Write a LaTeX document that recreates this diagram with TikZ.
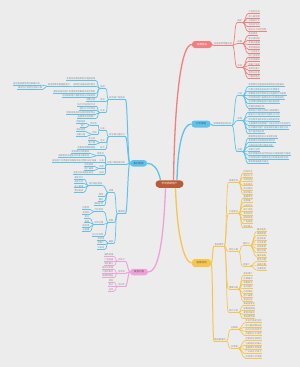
\documentclass[tikz,border=0pt]{standalone}
\usepackage{fontspec}
\usepackage{xstring}
\newfontfamily\cjk{Noto Sans CJK SC}
\definecolor{bgc}{HTML}{ECECEC}
\definecolor{cR}{HTML}{F37E7E}
\definecolor{cB}{HTML}{5CC3EE}
\definecolor{cY}{HTML}{F7C54C}
\definecolor{cP}{HTML}{F0A0DA}
\definecolor{cC}{HTML}{B85B36}
\definecolor{txt}{HTML}{8A8A8A}
\newcounter{poff}
\newcommand\pool{市场调研用户画像竞品分析渠道投放活动策划数据复盘内容运营品牌传播社群维护效果评估产品定位目标人群预算分配执行计划时间节点团队分工风险控制会员体系积分规则裂变增长直播带货视频推广公众号文线下活动合作伙伴媒体资源广告投放转化漏斗留存分析客户服务售后保障舆情监测危机公关年度总结季度规划月度报告每周例会日程安排优惠方案新品发布用户反馈需求收集版本迭代物料设计海报制作文案撰写场地布置嘉宾邀请流量获取复购提升}
\newcommand\T[1]{\StrMid{\pool}{\the\numexpr\value{poff}+1\relax}{\the\numexpr\value{poff}+#1\relax}\addtocounter{poff}{#1}\ifnum\value{poff}>170 \setcounter{poff}{0}\fi}
\newcommand\tR[5]{\node[tp,anchor=south west] (#1) at (#2,#3) {#5}; \draw[ul=#4] (#1.south west) -- (#1.south east);}
\newcommand\tL[5]{\node[tp,anchor=south east] (#1) at (#2,#3) {#5}; \draw[ul=#4] (#1.south west) -- (#1.south east);}
\newcommand\kR[3]{\draw[cn=#3] (#1.south east) .. controls +(2.5,0) and +(-2.5,0) .. (#2.south west);}
\newcommand\kL[3]{\draw[cn=#3] (#1.south west) .. controls +(-2.5,0) and +(2.5,0) .. (#2.south east);}
\begin{document}
\begin{tikzpicture}[x=1pt,y=-1pt,
 tp/.style={font=\cjk\fontsize{2.2}{2.6}\selectfont, text=txt, inner xsep=0.5pt, inner ysep=0.35pt},
 ul/.style={draw=#1, line width=0.7pt},
 cn/.style={draw=#1, line width=0.7pt},
 c1/.style={draw=#1, line width=1pt},
 mc/.style={draw=#1, line width=1.3pt},
 mn/.style={rounded corners=3pt, minimum width=20pt, minimum height=7pt, inner sep=0pt, font=\cjk\fontsize{2.5}{3}\selectfont, text=black!65}]
\fill[bgc] (0,0) rectangle (300,367);
\useasboundingbox (0,0) rectangle (300,367);

% center and main topics
\node[mn, fill=cC, minimum width=28pt, minimum height=7.5pt, rounded corners=3.7pt, text=white, font=\cjk\fontsize{2.6}{3}\selectfont] (C) at (169.5,184) {\T{6}};
\node[mn, fill=cR, text=white] (R) at (202,44.5) {\T{4}};
\node[mn, fill=cB, minimum width=19pt] (B) at (201,124) {\T{4}};
\node[mn, fill=cY, minimum width=19pt, minimum height=8pt] (Y) at (201.5,263) {\T{4}};
\node[mn, fill=cB, minimum width=17pt, minimum height=6.5pt] (L) at (138.5,163.3) {\T{4}};
\node[mn, fill=cP, minimum width=18pt, minimum height=6.5pt] (P) at (139,272) {\T{4}};

\draw[mc=cR] ([xshift=4pt]C.north) .. controls (175,90) and (182,44.5) .. (R.west);
\draw[mc=cB] ([xshift=7.5pt]C.north) .. controls (178,140) and (184,124) .. (B.west);
\draw[mc=cY] ([xshift=6pt]C.south) .. controls (177,235) and (184,263) .. (Y.west);
\draw[mc=cB] ([xshift=-9pt]C.north) .. controls (158,168) and (153,163.3) .. (L.east);
\draw[mc=cP] ([xshift=-4pt]C.south) .. controls (163,255) and (156,272) .. (P.east);

% ---------- RED ----------
\tR{R1}{213.5}{45.6}{cR}{\T{8}}
\draw[c1=cR] (R.east) .. controls +(1,0) and +(-1,0) .. (R1.south west);
\tR{RG1}{237}{22.7}{cR}{\T{2}} \kR{R1}{RG1}{cR}
\tR{RG2}{237}{43.7}{cR}{\T{2}} \kR{R1}{RG2}{cR}
\tR{RG3}{237}{67.4}{cR}{\T{2}} \kR{R1}{RG3}{cR}
\foreach \y/\n [count=\i] in {13.7/5,18/5,22.4/5,26.7/5,31.4/8}{\tR{Ra\i}{248}{\y}{cR}{\T{\n}}\kR{RG1}{Ra\i}{cR}}
\foreach \y/\n [count=\i] in {35.7/4,40/5,44.4/5,49/5,53.4/5}{\tR{Rb\i}{248}{\y}{cR}{\T{\n}}\kR{RG2}{Rb\i}{cR}}
\foreach \y/\n [count=\i] in {57.4/5,61.6/5,65.8/5,70/5,74.2/5,78.4/5}{\tR{Rc\i}{248}{\y}{cR}{\T{\n}}\kR{RG3}{Rc\i}{cR}}

% ---------- BLUE RIGHT ----------
\tR{B1}{213}{125.4}{cB}{\T{8}}
\draw[c1=cB] (B.east) .. controls +(1,0) and +(-1,0) .. (B1.south west);
\tR{BG1}{237}{95.7}{cB}{\T{2}} \kR{B1}{BG1}{cB}
\tR{BG2}{237}{120.7}{cB}{\T{2}} \kR{B1}{BG2}{cB}
\tR{BG3}{237}{151.7}{cB}{\T{2}} \kR{B1}{BG3}{cB}
\foreach \y/\n [count=\i] in {86.7/16,91/14,95.3/17,99.5/16,103.7/14,107.9/7}{\tR{Ba\i}{248}{\y}{cB}{\T{\n}}\kR{BG1}{Ba\i}{cB}}
\foreach \y/\n [count=\i] in {112.4/14,116.7/14,121/14,125.2/19,129.4/18,133.6/7}{\tR{Bb\i}{248}{\y}{cB}{\T{\n}}\kR{BG2}{Bb\i}{cB}}
\foreach \y/\n [count=\i] in {138.4/13,142.6/12,146.8/11,151/5,155.2/19,159.4/18,163.6/9}{\tR{Bc\i}{248}{\y}{cB}{\T{\n}}\kR{BG3}{Bc\i}{cB}}

% ---------- YELLOW ----------
\tR{Y1}{214}{246}{cY}{\T{4}}
\draw[c1=cY] (Y.east) .. controls +(1.5,0) and +(-1.5,0) .. (Y1.south west);
\tR{Y2}{214}{341}{cY}{\T{5}}
\draw[c1=cY] (Y.east) .. controls +(1.5,0) and +(-1.5,0) .. (Y2.south west);
\tR{YA}{228.5}{182.4}{cY}{\T{4}} \kR{Y1}{YA}{cY}
\tR{YB}{228.5}{213.4}{cY}{\T{4}} \kR{Y1}{YB}{cY}
\tR{YC}{228.5}{251.7}{cY}{\T{4}} \kR{Y1}{YC}{cY}
\tR{YD}{228.5}{289}{cY}{\T{4}} \kR{Y1}{YD}{cY}
\tR{YE}{228.5}{312.4}{cY}{\T{4}} \kR{Y1}{YE}{cY}
\foreach \y [count=\i] in {173.2,177.4,181.6,185.8,190,194.2}{\tR{Ya\i}{243}{\y}{cY}{\T{4}}\kR{YA}{Ya\i}{cY}}
\foreach \y [count=\i] in {198.4,202.6,206.8,211,215.2,219.4,223.6,227.8}{\tR{Yb\i}{243}{\y}{cY}{\T{4}}\kR{YB}{Yb\i}{cY}}
\tR{YC1}{242.5}{245.7}{cY}{\T{3}} \kR{YC}{YC1}{cY}
\tR{YC2}{242.5}{266}{cY}{\T{3}} \kR{YC}{YC2}{cY}
\foreach \y [count=\i] in {231.5,235.7,240,244.3,248.5,252.7,257}{\tR{Yc\i}{256.5}{\y}{cY}{\T{4}}\kR{YC1}{Yc\i}{cY}}
\foreach \y [count=\i] in {261.5,265.8,270}{\tR{Yd\i}{256.5}{\y}{cY}{\T{4}}\kR{YC2}{Yd\i}{cY}}
\foreach \y [count=\i] in {275.7,280,284.3,288.6,292.9,297.2,301.5}{\tR{Ye\i}{243}{\y}{cY}{\T{4}}\kR{YD}{Ye\i}{cY}}
\foreach \y [count=\i] in {305.7,310,314.3,318.6}{\tR{Yf\i}{243}{\y}{cY}{\T{5}}\kR{YE}{Yf\i}{cY}}
\tR{YF}{230.5}{329.4}{cY}{\T{3}} \kR{Y2}{YF}{cY}
\tR{YG}{230.5}{348.4}{cY}{\T{3}} \kR{Y2}{YG}{cY}
\foreach \y [count=\i] in {322.7,327,331.3,335.6}{\tR{Yg\i}{245}{\y}{cY}{\T{4}~\T{3}}\kR{YF}{Yg\i}{cY}}
\foreach \y [count=\i] in {340.7,345,349.3,353.6,357.9}{\tR{Yh\i}{245}{\y}{cY}{\T{4}~\T{3}}\kR{YG}{Yh\i}{cY}}

% ---------- BLUE LEFT ----------
\tL{L1}{125.5}{99.4}{cB}{\T{7}}
\tL{L2}{125.5}{136.7}{cB}{\T{7}}
\tL{L3}{125.5}{164.7}{cB}{\T{8}}
\tL{L4}{125.5}{213.7}{cB}{\T{3}}
\foreach \t in {L1,L2,L3,L4}{\draw[c1=cB] (L.west) .. controls +(-2,0) and +(2,0) .. (\t.south east);}
% L1
\tL{L1a}{105.5}{88.4}{cB}{\T{2}} \kL{L1}{L1a}{cB}
\tL{L1b}{105.5}{101.7}{cB}{\T{2}} \kL{L1}{L1b}{cB}
\tL{L1c}{105.5}{112.7}{cB}{\T{2}} \kL{L1}{L1c}{cB}
\foreach \y/\n [count=\i] in {80.7/13,86/10,93.4/19,97.7/15}{\tL{La\i}{96}{\y}{cB}{\T{\n}}\kL{L1a}{La\i}{cB}}
\tL{Lx}{70.5}{86}{cB}{\T{10}} \kL{La2}{Lx}{cB}
\tL{Ly1}{40.5}{85}{cB}{\T{12}} \kL{Lx}{Ly1}{cB}
\tL{Ly2}{43}{89.4}{cB}{\T{11}} \kL{Lx}{Ly2}{cB}
\tL{Lb1}{96}{101.7}{cB}{\T{4}} \kL{L1b}{Lb1}{cB}
\foreach \y/\n [count=\i] in {106/8,110/7,114/13,118.4/8}{\tL{Lc\i}{96}{\y}{cB}{\T{\n}}\kL{L1c}{Lc\i}{cB}}
% L2
\tL{L2a}{105.5}{130}{cB}{\T{2}} \kL{L2}{L2a}{cB}
\tL{L2b}{105.5}{142.7}{cB}{\T{2}} \kL{L2}{L2b}{cB}
\tL{L2c}{105.5}{149.4}{cB}{\T{2}} \kL{L2}{L2c}{cB}
\tL{L2a1}{97.5}{125}{cB}{\T{3}} \kL{L2a}{L2a1}{cB}
\tL{L2a2}{97.5}{134.4}{cB}{\T{2}} \kL{L2a}{L2a2}{cB}
\foreach \y/\n [count=\i] in {123.4/4,127.7/2}{\tL{Ld\i}{86}{\y}{cB}{\T{\n}}\kL{L2a1}{Ld\i}{cB}}
\foreach \y/\n [count=\i] in {131.7/4,136.7/4}{\tL{Le\i}{86}{\y}{cB}{\T{\n}}\kL{L2a2}{Le\i}{cB}}
\foreach \y/\n [count=\i] in {140.7/3,144.4/3}{\tL{Lf\i}{96}{\y}{cB}{\T{\n}}\kL{L2b}{Lf\i}{cB}}
\tL{Lg1}{96}{149.4}{cB}{\T{8}} \kL{L2c}{Lg1}{cB}
% L3
\tL{L3a}{104.5}{155.7}{cB}{\T{3}} \kL{L3}{L3a}{cB}
\tL{L3b}{104.5}{162.4}{cB}{\T{2}} \kL{L3}{L3b}{cB}
\tL{L3c}{104.5}{168.4}{cB}{\T{2}} \kL{L3}{L3c}{cB}
\tL{L3d}{104.5}{174.4}{cB}{\T{2}} \kL{L3}{L3d}{cB}
\foreach \y/\n [count=\i] in {153.4/8,157.7/14}{\tL{Lh\i}{90}{\y}{cB}{\T{\n}}\kL{L3a}{Lh\i}{cB}}
\tL{Li1}{97}{162.4}{cB}{\T{20}} \kL{L3b}{Li1}{cB}
\foreach \y/\n [count=\i] in {166/4,170.7/4}{\tL{Lj\i}{94}{\y}{cB}{\T{\n}}\kL{L3c}{Lj\i}{cB}}
\tL{Lk1}{94}{174.4}{cB}{\T{9}} \kL{L3d}{Lk1}{cB}
% L4
\tL{L4a}{114}{192.4}{cB}{\T{2}} \kL{L4}{L4a}{cB}
\tL{L4b}{114}{222.7}{cB}{\T{2}} \kL{L4}{L4b}{cB}
\tL{L4c}{114}{243.4}{cB}{\T{2}} \kL{L4}{L4c}{cB}
\tL{L4a1}{103}{185.7}{cB}{\T{6}} \kL{L4a}{L4a1}{cB}
\tL{L4a2}{104}{196.7}{cB}{\T{2}} \kL{L4a}{L4a2}{cB}
\tL{L4a3}{104}{201}{cB}{\T{2}} \kL{L4a}{L4a3}{cB}
\tL{L4a4}{104}{205.5}{cB}{\T{4}} \kL{L4a}{L4a4}{cB}
\foreach \y [count=\i] in {179,183.4,187.8,192.2}{\tL{Lm\i}{84}{\y}{cB}{\T{4}}\kL{L4a1}{Lm\i}{cB}}
\tL{L4b1}{104}{211.7}{cB}{\T{4}} \kL{L4b}{L4b1}{cB}
\tL{L4b2}{104}{224.4}{cB}{\T{4}} \kL{L4b}{L4b2}{cB}
\tL{L4b3}{104}{236}{cB}{\T{5}} \kL{L4b}{L4b3}{cB}
\foreach \y/\n [count=\i] in {209.4/3,214/3}{\tL{Ln\i}{90}{\y}{cB}{\T{\n}}\kL{L4b1}{Ln\i}{cB}}
\foreach \y/\n [count=\i] in {218.6/2,222.8/2,227/3,231.4/3}{\tL{Lo\i}{90}{\y}{cB}{\T{\n}}\kL{L4b2}{Lo\i}{cB}}
\foreach \y [count=\i] in {240,244.4,249}{\tL{Lp\i}{105}{\y}{cB}{\T{3}}\kL{L4c}{Lp\i}{cB}}

% ---------- PINK ----------
\tL{P1}{125.5}{261}{cP}{\T{3}}
\tL{P2}{125.5}{273.4}{cP}{\T{3}}
\tL{P3}{125.5}{286.7}{cP}{\T{3}}
\foreach \t in {P1,P2,P3}{\draw[c1=cP] (P.west) .. controls +(-1.5,0) and +(1.5,0) .. (\t.south east);}
\foreach \y [count=\i] in {256.7,261,265.3}{\tL{Pa\i}{114}{\y}{cP}{\T{4}}\kL{P1}{Pa\i}{cP}}
\foreach \y [count=\i] in {269.6,273.4,277.6}{\tL{Pb\i}{114}{\y}{cP}{\T{5}}\kL{P2}{Pb\i}{cP}}
\foreach \y [count=\i] in {282.4,286.7,291}{\tL{Pc\i}{114}{\y}{cP}{\T{2}}\kL{P3}{Pc\i}{cP}}
\end{tikzpicture}
\end{document}
